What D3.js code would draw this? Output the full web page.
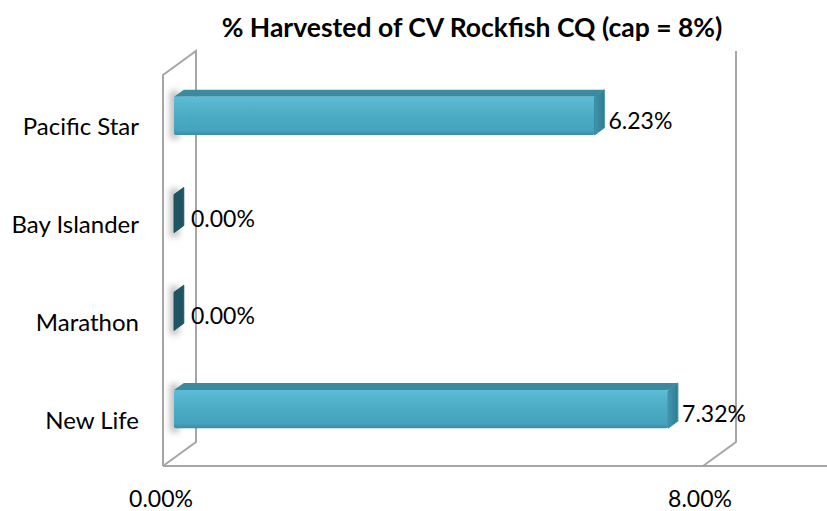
<!DOCTYPE html>
<html>
<head>
<meta charset="utf-8">
<script src="https://cdn.jsdelivr.net/npm/d3@7"></script>
<style>
  body { margin: 0; background: #fff; }
  text { font-family: Lato, "Open Sans", sans-serif; fill: #000; }
</style>
</head>
<body>
<svg id="chart" width="827" height="511"></svg>
<script>
// data (top to bottom as shown)
const categories = ['Pacific Star', 'Bay Islander', 'Marathon', 'New Life'];
const harvested = [6.23, 0.00, 0.00, 7.32];
const tickValues = [0, 8];
const title = '% Harvested of CV Rockfish CQ (cap = 8%)';

const W = 827, H = 511;
const svg = d3.select('#chart');

// plot frame (front plane) and 3d depth vector
const plotLeft = 163, plotRight = 703, plotTop = 75, plotBottom = 466;
const depth = { dx: 33, dy: -24 };
const off = f => [depth.dx * f, depth.dy * f];

const x = d3.scaleLinear().domain([0, 8]).range([plotLeft, plotRight]);
const y = d3.scaleBand().domain(categories).range([plotTop, plotBottom]).paddingInner(0.61).paddingOuter(0.305);

const defs = svg.append('defs');
const gFront = defs.append('linearGradient').attr('id', 'front').attr('x1', 0).attr('y1', 0).attr('x2', 0).attr('y2', 1);
gFront.append('stop').attr('offset', '0%').attr('stop-color', '#5cbdd6');
gFront.append('stop').attr('offset', '50%').attr('stop-color', '#4baac4');
gFront.append('stop').attr('offset', '88%').attr('stop-color', '#45a3bd');
gFront.append('stop').attr('offset', '100%').attr('stop-color', '#3a8ca3');
const gSide = defs.append('linearGradient').attr('id', 'side').attr('x1', 0).attr('y1', 0).attr('x2', 1).attr('y2', 0);
gSide.append('stop').attr('offset', '0%').attr('stop-color', '#3f95ad');
gSide.append('stop').attr('offset', '100%').attr('stop-color', '#2f7c92');
defs.append('filter').attr('id', 'blur').attr('x', '-50%').attr('y', '-50%').attr('width', '200%').attr('height', '200%')
  .append('feGaussianBlur').attr('stdDeviation', 3);

// walls / gridlines
const grid = svg.append('g').attr('stroke', '#a6a6a6').attr('stroke-width', 2).attr('fill', 'none');
const [bx, by] = off(1);
grid.append('path').attr('d', `M${plotLeft},${plotBottom} L${plotLeft},${plotTop} L${plotLeft + bx},${plotTop + by} L${plotLeft + bx},${plotBottom + by} L${plotLeft},${plotBottom}`);
grid.append('path').attr('d', `M${plotLeft},${plotBottom} L${W},${plotBottom}`);
tickValues.slice(1).forEach(t => {
  grid.append('path').attr('d', `M${x(t)},${plotBottom} L${x(t) + bx},${plotBottom + by} L${x(t) + bx},${plotTop + by}`);
});

// bars at 1/3 .. 0.63 of depth
const f0 = 1 / 3, f1 = 0.63;
const [ax0, ay0] = off(f0), [ax1, ay1] = off(f1);
const bars = svg.append('g');

// shadows on the wall
bars.selectAll('rect.shadow').data(categories).join('rect')
  .attr('class', 'shadow')
  .attr('x', plotLeft + ax0 - 4).attr('y', d => y(d) + ay0 - 6)
  .attr('width', 9).attr('height', y.bandwidth() + 10)
  .attr('fill', '#8a8a8a').attr('opacity', 0.55)
  .attr('filter', 'url(#blur)');

categories.forEach((c, i) => {
  const v = harvested[i];
  const x0 = x(0) + ax0, x1 = x(v) + ax0;
  const yt = y(c) + ay0, yb = yt + y.bandwidth();
  const dx = ax1 - ax0, dy = ay1 - ay0;
  const g = bars.append('g');
  if (v > 0) {
    // top face
    g.append('path').attr('d', `M${x0},${yt} L${x0 + dx},${yt + dy} L${x1 + dx},${yt + dy} L${x1},${yt} Z`).attr('fill', '#3b8aa0');
    // front face
    g.append('rect').attr('x', x0).attr('y', yt).attr('width', x1 - x0).attr('height', yb - yt)
      .attr('rx', 2).attr('fill', 'url(#front)');
  }
  // end face
  g.append('path').attr('d', `M${x1},${yt} L${x1 + dx},${yt + dy} L${x1 + dx},${yb + dy} L${x1},${yb} Z`)
    .attr('fill', v > 0 ? 'url(#side)' : '#1f5563')
    .attr('stroke', v > 0 ? '#3a8ca2' : '#1f5563').attr('stroke-width', 1).attr('stroke-linejoin', 'round');

  // data label
  svg.append('text')
    .attr('x', x(v) + (v > 0 ? 25 : 28)).attr('y', y(c) + y.bandwidth() / 2 - 4)
    .attr('dominant-baseline', 'central').attr('font-size', 23)
    .text(v.toFixed(2) + '%');
});

// category labels
svg.append('g').selectAll('text').data(categories).join('text')
  .attr('x', 139).attr('y', d => y(d) + y.bandwidth() / 2 + 2)
  .attr('text-anchor', 'end').attr('dominant-baseline', 'central').attr('font-size', 24)
  .text(d => d);

// value axis labels
svg.append('g').selectAll('text').data(tickValues).join('text')
  .attr('x', d => x(d) + (d > 0 ? -3 : -2)).attr('y', 498)
  .attr('text-anchor', 'middle').attr('dominant-baseline', 'central').attr('font-size', 23)
  .text(d => d.toFixed(2) + '%');

// title
svg.append('text').attr('x', 472).attr('y', 27)
  .attr('text-anchor', 'middle').attr('dominant-baseline', 'central')
  .attr('font-size', 26.5).attr('font-weight', 'bold')
  .text(title);
</script>
</body>
</html>
